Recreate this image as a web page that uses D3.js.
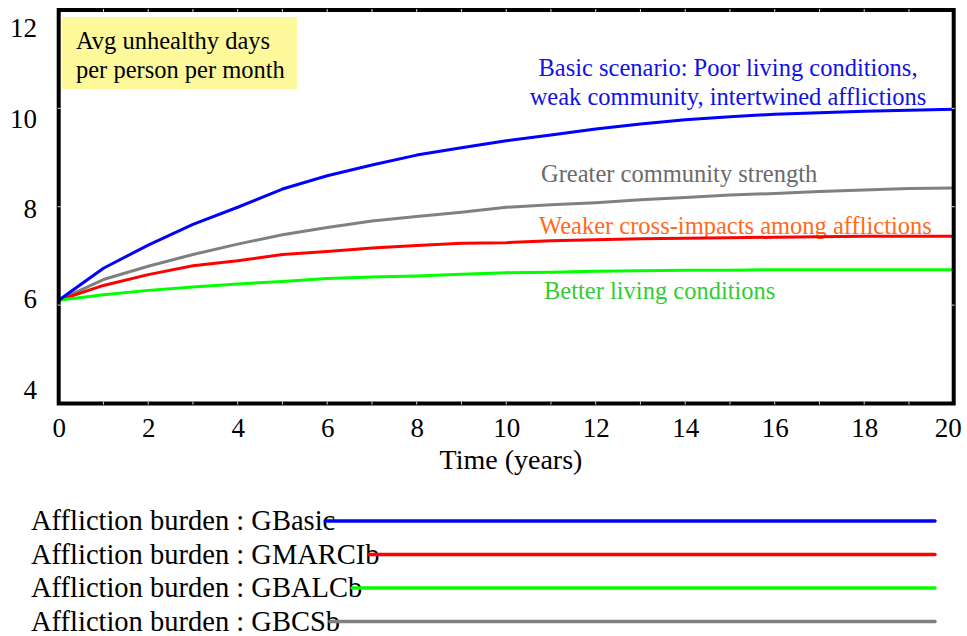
<!DOCTYPE html>
<html><head><meta charset="utf-8">
<script src="https://cdn.jsdelivr.net/npm/d3@7"></script>
<style>
body{margin:0;background:#fff}
svg{display:block}
svg text{font-family:"Liberation Serif","Times New Roman",serif !important}
</style>
</head><body>
<svg id="c" width="967" height="636"></svg>
<script>
// ---- data ----
const years = [0,1,2,3,4,5,6,7,8,9,10,11,12,13,14,15,16,17,18,19,20];
const gBasic  = [6.10,6.75,7.22,7.64,7.99,8.36,8.63,8.85,9.05,9.20,9.34,9.46,9.58,9.68,9.77,9.83,9.88,9.91,9.94,9.96,9.98];
const gBCSb   = [6.10,6.52,6.79,7.03,7.24,7.43,7.58,7.71,7.80,7.89,7.99,8.04,8.08,8.14,8.19,8.24,8.27,8.31,8.34,8.37,8.38];
const gMARCIb = [6.10,6.40,6.62,6.80,6.90,7.03,7.09,7.16,7.21,7.26,7.27,7.31,7.33,7.35,7.36,7.37,7.38,7.39,7.40,7.40,7.40];
const gBALCb  = [6.10,6.21,6.30,6.37,6.43,6.48,6.54,6.57,6.59,6.63,6.66,6.67,6.69,6.70,6.71,6.71,6.72,6.72,6.72,6.72,6.72];
const xTickLabels = [0,2,4,6,8,10,12,14,16,18,20];
const yTickLabels = [4,6,8,10,12];
const seriesNames = ["Affliction burden : GBasic","Affliction burden : GMARCIb","Affliction burden : GBALCb","Affliction burden : GBCSb"];
const seriesColors = ["#0000ff","#ff0000","#00ff00","#808080"];
const seriesValues = [gBasic, gMARCIb, gBALCb, gBCSb];
const xTitle = "Time (years)";
const boxLines = ["Avg unhealthy days","per person per month"];

// ---- drawing ----
const FONT = '"Liberation Serif","Times New Roman",serif';
const svg = d3.select("#c");
const L = 58.7, R = 953.7, T = 10, B = 403.5;
const x = d3.scaleLinear().domain([0,20]).range([L,R]);
const y = d3.scaleLinear().domain([4,12]).range([B,T]);
const yLab = d3.scaleLinear().domain([4,12]).range([398,36.7]); // label baselines

// yellow box
svg.append("rect").attr("x",62).attr("y",17).attr("width",235).attr("height",72).attr("fill","#fdf99b");
svg.append("g").selectAll("text").data(boxLines).join("text")
  .attr("x",76).attr("y",(d,i)=>48.5+i*29).style("font-family",FONT).style("font-size","24.5px")
  .attr("fill","#000").text(d=>d);

// annotations
const ann = [
  {t:"Basic scenario: Poor living conditions,", x:728, y:76, a:"middle", c:"#1010e8"},
  {t:"weak community, intertwined afflictions", x:728, y:105, a:"middle", c:"#1010e8"},
  {t:"Greater community strength", x:541, y:182, a:"start", c:"#6a6a6a"},
  {t:"Weaker cross-impacts among afflictions", x:539, y:234, a:"start", c:"#ff6a1a"},
  {t:"Better living conditions", x:544, y:298.5, a:"start", c:"#33cc33"}
];
svg.append("g").selectAll("text").data(ann).join("text")
  .attr("x",d=>d.x).attr("y",d=>d.y).attr("text-anchor",d=>d.a)
  .style("font-family",FONT).style("font-size","24.5px").attr("fill",d=>d.c).text(d=>d.t);

// lines
const line = d3.line().x((d,i)=>x(years[i])).y(d=>y(d));
const drawOrder = [3,1,2,0];
svg.append("g").selectAll("path").data(drawOrder).join("path")
  .attr("d",k=>line(seriesValues[k])).attr("fill","none")
  .attr("stroke",k=>seriesColors[k]).attr("stroke-width",3).attr("stroke-linejoin","round");

// frame
svg.append("rect").attr("x",L).attr("y",T).attr("width",R-L).attr("height",B-T)
  .attr("fill","none").attr("stroke","#000").attr("stroke-width",4);

// small light ticks on frame
const tg = svg.append("g").attr("stroke","#d8d8d8").attr("stroke-width",1);
d3.range(1,20).forEach(v=>{
  tg.append("line").attr("x1",x(v)).attr("x2",x(v)).attr("y1",B-2).attr("y2",B+1);
  tg.append("line").attr("x1",x(v)).attr("x2",x(v)).attr("y1",T-1).attr("y2",T+2);
});
[6,8,10].forEach(v=>{
  tg.append("line").attr("x1",L-1).attr("x2",L+2).attr("y1",y(v)).attr("y2",y(v));
  tg.append("line").attr("x1",R-2).attr("x2",R+1).attr("y1",y(v)).attr("y2",y(v));
});

// x axis labels
const gx = svg.append("g").attr("transform","translate(0,418)").attr("font-family",null).attr("font-size",null)
  .call(d3.axisBottom(x).tickValues(xTickLabels).tickSize(0).tickPadding(0).tickFormat(d3.format("d")));
gx.select(".domain").remove();
gx.selectAll("text").style("font-family",FONT).style("font-size","27px").attr("fill","#000")
  .attr("dy","0.7em");
gx.selectAll(".tick:last-of-type text").attr("dx",-6);

// y axis labels
const gy = svg.append("g").attr("transform","translate(37,0)")
  .call(d3.axisLeft(yLab).tickValues(yTickLabels).tickSize(0).tickPadding(0).tickFormat(d3.format("d")));
gy.select(".domain").remove();
gy.selectAll("text").style("font-family",FONT).style("font-size","27px").attr("fill","#000")
  .attr("dy",0);

// x title
svg.append("text").attr("x",511).attr("y",469).attr("text-anchor","middle")
  .style("font-family",FONT).style("font-size","28px").attr("fill","#000").text(xTitle);

// legend
const lg = svg.append("g");
seriesNames.forEach((n,i)=>{
  const by = 530 + i*33.5;
  const t = lg.append("text").attr("x",31).attr("y",by).style("font-family",FONT).style("font-size","28.5px")
    .attr("fill","#000").text(n);
  const w = t.node().getComputedTextLength();
  lg.append("line").attr("x1",31+w-10).attr("x2",935).attr("y1",by-9).attr("y2",by-9)
    .attr("stroke",seriesColors[i]).attr("stroke-width",3.5).attr("stroke-linecap","round");
});
</script>
</body></html>
